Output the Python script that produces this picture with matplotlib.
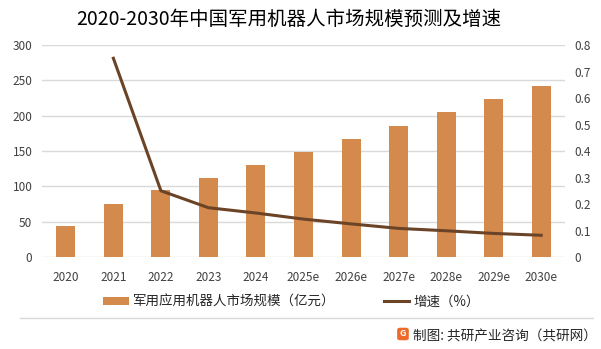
import matplotlib.pyplot as plt
from matplotlib.lines import Line2D
from matplotlib.patches import FancyBboxPatch, Patch

plt.rcParams['font.family'] = ['Noto Sans CJK SC', 'DejaVu Sans']

# 年份及预测数据
years = ["2020", "2021", "2022", "2023", "2024", "2025e", "2026e",
         "2027e", "2028e", "2029e", "2030e"]
market_size = [44, 75, 95, 112, 130, 149, 167, 185, 205, 224, 242]
growth = [None, 0.75, 0.25, 0.186, 0.166, 0.143, 0.125, 0.108, 0.099, 0.089, 0.082]

bar_color = "#D48A4C"
line_color = "#6B4427"

fig = plt.figure(figsize=(6.01, 3.49), dpi=100)
ax = fig.add_axes([0.07, 0.2636, 0.87, 0.6074])

x = list(range(len(years)))
ax.bar(x, market_size, width=0.4, color=bar_color, zorder=2)
ax.set_ylim(0, 300)
ax.set_yticks(range(0, 301, 50))
ax.set_xlim(-0.5, len(years) - 0.5)
ax.set_xticks(x)
ax.set_xticklabels(years)
ax.grid(axis="y", color="#D9D9D9", linewidth=1, zorder=0)
for s in ax.spines.values():
    s.set_visible(False)
ax.tick_params(length=0, labelsize=8.5, colors="#404040", pad=10)
ax.tick_params(axis="y", pad=7)

# 增速折线（右轴）
ax2 = ax.twinx()
gx = [i for i, g in zip(x, growth) if g is not None]
gy = [g for g in growth if g is not None]
ax2.plot(gx, gy, color=line_color, linewidth=2.2, zorder=3)
ax2.set_ylim(0, 0.8)
ax2.set_yticks([0, 0.1, 0.2, 0.3, 0.4, 0.5, 0.6, 0.7, 0.8])
ax2.set_yticklabels(["0", "0.1", "0.2", "0.3", "0.4", "0.5", "0.6", "0.7", "0.8"])
for s in ax2.spines.values():
    s.set_visible(False)
ax2.tick_params(length=0, labelsize=8.5, colors="#404040", pad=7)

fig.text(0.48, 0.945, "2020-2030年中国军用机器人市场规模预测及增速",
         ha="center", va="center", fontsize=14, color="#000000")

handles = [Patch(facecolor=bar_color), Line2D([0], [0], color=line_color, linewidth=2.2)]
fig.legend(handles, ["军用应用机器人市场规模（亿元）", "增速（%）"],
           loc="center", bbox_to_anchor=(0.485, 0.135), ncol=2, frameon=False,
           fontsize=9.7, handlelength=1.9, handleheight=0.55, columnspacing=3.6,
           handletextpad=0.3, labelcolor="#262626")

# 分隔线与来源
fig.add_artist(Line2D([0.033, 0.987], [0.089, 0.089], color="#D9D9D9", linewidth=1))
fig.add_artist(FancyBboxPatch((0.662, 0.027), 0.017, 0.032,
                              boxstyle="round,pad=0,rounding_size=0.004",
                              color="#EE6A2A", transform=fig.transFigure))
fig.text(0.6705, 0.043, "G", ha="center", va="center", fontsize=6.5,
         fontweight="bold", color="white")
fig.text(0.688, 0.035, "制图: 共研产业咨询（共研网）", ha="left", va="center",
         fontsize=9.8, color="#262626")

fig.savefig("out.png", dpi=100)
